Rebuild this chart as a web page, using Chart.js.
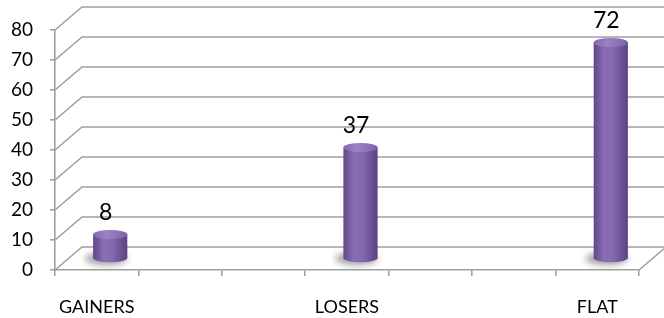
<!DOCTYPE html>
<html>
<head>
<meta charset="utf-8">
<script src="https://cdn.jsdelivr.net/npm/chart.js@4"></script>
<style>
    html, body { margin: 0; padding: 0; background: #ffffff; }
    canvas { display: block; }
</style>
</head>
<body>
<canvas id="graficoColunas" width="664" height="318"></canvas>
<script>
// dados do grafico (as colunas vazias existem no original entre as categorias)
const categorias = ['GAINERS', '', '', 'LOSERS', '', '', 'FLAT'];
const valores = [8, null, null, 37, null, null, 72];
const ticksY = [0, 10, 20, 30, 40, 50, 60, 70, 80];

// deslocamento da profundidade 3D (parede do fundo)
const PROF = { x: 27, y: -23 };
const COR_GRADE = '#a0a0a0';

const pluginParede = {
    id: 'parede',
    beforeDatasetsDraw(chart) {
        const { ctx, chartArea } = chart;
        const escalaY = chart.scales.y;
        ctx.save();
        ctx.strokeStyle = COR_GRADE;
        ctx.lineWidth = 1.6;
        ticksY.forEach(v => {
            const py = escalaY.getPixelForValue(v);
            ctx.beginPath();
            ctx.moveTo(chartArea.left, py);
            ctx.lineTo(chartArea.left + PROF.x, py + PROF.y);
            ctx.lineTo(chart.width, py + PROF.y);
            ctx.stroke();
        });
        // borda direita do piso
        const base = escalaY.getPixelForValue(0);
        ctx.beginPath();
        ctx.moveTo(chartArea.right, base);
        ctx.lineTo(chartArea.right + PROF.x, base + PROF.y);
        ctx.stroke();
        ctx.restore();
    }
};

const pluginCilindros = {
    id: 'cilindros',
    afterDatasetsDraw(chart) {
        const ctx = chart.ctx;
        const meta = chart.getDatasetMeta(0);
        meta.data.forEach((barra, i) => {
            if (valores[i] == null) return;
            const { x, y, base, width } = barra.getProps(['x', 'y', 'base', 'width'], true);
            const cx = x + PROF.x / 2;
            const topo = y + PROF.y / 2;
            const fundo = base + PROF.y / 2;
            const rx = width / 2;
            const ry = 4.5;

            ctx.save();
            // sombra no piso
            ctx.filter = 'blur(3px)';
            ctx.fillStyle = 'rgba(90, 90, 90, 0.55)';
            ctx.beginPath();
            ctx.ellipse(cx - 4, fundo + 1, rx + 4, ry + 2, 0, 0, Math.PI * 2);
            ctx.fill();
            ctx.filter = 'none';

            // corpo do cilindro
            const grad = ctx.createLinearGradient(cx - rx, 0, cx + rx, 0);
            grad.addColorStop(0, '#5f4785');
            grad.addColorStop(0.3, '#8a6db5');
            grad.addColorStop(0.55, '#866ab0');
            grad.addColorStop(1, '#5a4380');
            ctx.fillStyle = grad;
            ctx.beginPath();
            ctx.moveTo(cx - rx, topo);
            ctx.lineTo(cx - rx, fundo);
            ctx.ellipse(cx, fundo, rx, ry, 0, Math.PI, 0, true);
            ctx.lineTo(cx + rx, topo);
            ctx.closePath();
            ctx.fill();

            // tampa
            const gradTampa = ctx.createLinearGradient(cx - rx, 0, cx + rx, 0);
            gradTampa.addColorStop(0, '#8469ad');
            gradTampa.addColorStop(0.4, '#9c82c4');
            gradTampa.addColorStop(1, '#7e62a8');
            ctx.fillStyle = gradTampa;
            ctx.beginPath();
            ctx.ellipse(cx, topo, rx, ry, 0, 0, Math.PI * 2);
            ctx.fill();

            // rotulo do valor
            ctx.fillStyle = '#000000';
            ctx.font = '23px Lato';
            ctx.textAlign = 'center';
            ctx.textBaseline = 'middle';
            ctx.fillText(String(valores[i]), x + 9, y - 33);
            ctx.restore();
        });
    }
};

new Chart(document.getElementById('graficoColunas').getContext('2d'), {
    type: 'bar',
    data: {
        labels: categorias,
        datasets: [{
            data: valores,
            backgroundColor: 'rgba(0,0,0,0)',
            borderWidth: 0,
            categoryPercentage: 1,
            barPercentage: 0.41
        }]
    },
    options: {
        responsive: false,
        animation: false,
        layout: { padding: { top: 30, right: 25, left: 0, bottom: 0 } },
        plugins: {
            legend: { display: false },
            tooltip: { enabled: false }
        },
        scales: {
            x: {
                afterFit: s => { s.height = 48; },
                grid: { drawOnChartArea: false, tickLength: 6, color: COR_GRADE, lineWidth: 1.6 },
                border: { color: COR_GRADE, width: 1.6 },
                ticks: {
                    autoSkip: false,
                    maxRotation: 0,
                    padding: 20,
                    color: '#000000',
                    font: { family: 'Lato', size: 18 }
                }
            },
            y: {
                min: ticksY[0],
                max: ticksY[ticksY.length - 1],
                afterFit: s => { s.width = 55; },
                grid: { drawOnChartArea: false, tickLength: 5, color: COR_GRADE, lineWidth: 1.6 },
                border: { color: COR_GRADE, width: 1.6 },
                ticks: {
                    stepSize: 10,
                    padding: 17,
                    color: '#000000',
                    font: { family: 'Lato', size: 19 }
                }
            }
        }
    },
    plugins: [pluginParede, pluginCilindros]
});
</script>
</body>
</html>
